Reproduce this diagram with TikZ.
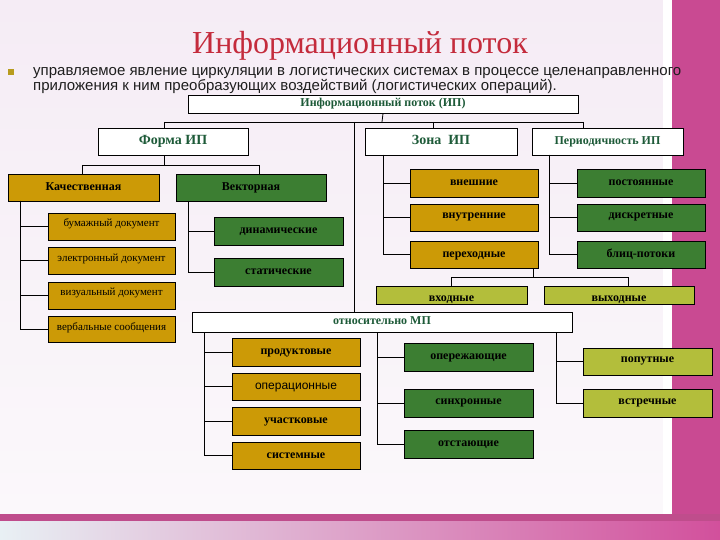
\documentclass[tikz,border=0pt]{standalone}
\usepackage{fontspec}
\setmainfont{Liberation Serif}
\setsansfont{Liberation Sans}
\definecolor{gold}{HTML}{CC9A06}
\definecolor{vgreen}{HTML}{3C7E32}
\definecolor{ygreen}{HTML}{B3BE3B}
\definecolor{hgreen}{HTML}{1D5A38}
\definecolor{tred}{HTML}{C42B3C}
\definecolor{mag}{HTML}{C94A92}
\definecolor{magdark}{HTML}{BF4D8C}
\definecolor{bgpink}{HTML}{F5ECF5}
\definecolor{bgpale}{HTML}{FBF8FB}
\definecolor{bullet}{HTML}{B89C1E}
\newcommand\mkbox[7]{\node[#1,minimum width={(#5)-(#3)},minimum height={(#6)-(#4)}] (#2) at ({((#3)+(#5))/2},{((#4)+(#6))/2}) {#7};}
\tikzset{
  base/.style={draw=black,line width=0.8pt,inner sep=0pt,text height=8pt,text depth=2.5pt},
  hdr/.style={base,fill=white,text=hgreen,font=\bfseries\fontsize{12}{13}\selectfont},
  goldbox/.style={base,fill=gold,font=\bfseries\fontsize{12}{13}\selectfont},
  docbox/.style={base,fill=gold,font=\fontsize{11}{12}\selectfont},
  grnbox/.style={base,fill=vgreen,font=\bfseries\fontsize{12}{13}\selectfont},
  ylwbox/.style={base,fill=ygreen,font=\bfseries\fontsize{12}{13}\selectfont},
  upa/.style={text depth=8.5pt},
  upb/.style={text depth=6pt},
  dna/.style={text height=15pt},
  conn/.style={draw=black,line width=0.8pt},
}
\begin{document}
\begin{tikzpicture}[x=1pt,y=-1pt]
\useasboundingbox (0,0) rectangle (720,540);
% background
\shade[top color=bgpink,bottom color=bgpale] (0,0) rectangle (672,515);
\fill[white] (663,0) rectangle (672,515);
\fill[mag] (672,0) rectangle (720,521);
\fill[magdark] (0,514) rectangle (720,521);
\shade[left color={rgb,255:red,232;green,240;blue,244},right color={rgb,255:red,210;green,80;blue,156}] (0,521) rectangle (720,540);
% title and text
\node[text=tred,font=\fontsize{32}{34}\selectfont,inner sep=0pt] (ttl) at (360,46) {Информационный поток};
\node[fill=bullet,minimum size=6pt,inner sep=0pt] (blt) at (11,72) {};
\node[anchor=base west,align=left,inner sep=0pt,text={rgb,255:red,30;green,30;blue,30},font=\sffamily\fontsize{15}{13.5}\selectfont] (desc) at (33,91)
  {управляемое явление циркуляции в логистических системах в процессе целенаправленного\\приложения к ним преобразующих воздействий (логистических операций).};
% header boxes
\mkbox{hdr}{top}{188}{95}{578}{113}{Информационный поток (ИП)}
\mkbox{hdr,font=\bfseries\fontsize{14}{15}\selectfont}{forma}{98}{128}{248}{155}{Форма ИП}
\mkbox{hdr,font=\bfseries\fontsize{14}{15}\selectfont}{zona}{365}{128}{517}{155}{Зона~~ИП}
\mkbox{hdr}{period}{532}{128}{683}{155}{Периодичность ИП}
\mkbox{hdr}{relmp}{192}{312}{572}{332}{относительно МП}
% form
\mkbox{goldbox}{kach}{8}{174}{159}{201}{Качественная}
\mkbox{grnbox}{vekt}{176}{174}{326}{201}{Векторная}
\mkbox{docbox,upa}{bum}{48}{213}{175}{240}{бумажный документ}
\mkbox{docbox,upb}{elec}{48}{247}{175}{274}{электронный документ}
\mkbox{docbox,upa}{vis}{48}{282}{175}{309}{визуальный документ}
\mkbox{docbox,upb}{verb}{48}{316}{175}{342}{вербальные сообщения}
\mkbox{grnbox}{din}{214}{217}{343}{245}{динамические}
\mkbox{grnbox}{stat}{214}{258}{343}{286}{статические}
% zone
\mkbox{goldbox}{vnesh}{410}{169}{538}{197}{внешние}
\mkbox{goldbox,upb}{vnutr}{410}{204}{538}{231}{внутренние}
\mkbox{goldbox}{perekh}{410}{241}{538}{268}{переходные}
\mkbox{ylwbox,dna}{vhod}{376}{287}{527}{304}{входные}
\mkbox{ylwbox,dna}{vyhod}{544}{287}{694}{304}{выходные}
% period
\mkbox{grnbox}{post}{577}{169}{705}{197}{постоянные}
\mkbox{grnbox,upb}{diskr}{577}{204}{705}{231}{дискретные}
\mkbox{grnbox}{blic}{577}{241}{705}{268}{блиц-потоки}
% relative MP
\mkbox{goldbox}{prod}{232}{338}{360}{366}{продуктовые}
\mkbox{goldbox,font=\sffamily\fontsize{12}{13}\selectfont}{oper}{232}{373}{360}{400}{операционные}
\mkbox{goldbox}{uch}{232}{407}{360}{435}{участковые}
\mkbox{goldbox}{sist}{232}{442}{360}{469}{системные}
\mkbox{grnbox}{operezh}{404}{343}{533}{371}{опережающие}
\mkbox{grnbox,upb}{sinhr}{404}{389}{533}{417}{синхронные}
\mkbox{grnbox}{otst}{404}{430}{533}{458}{отстающие}
\mkbox{ylwbox,upb}{poput}{583}{348}{712}{375}{попутные}
\mkbox{ylwbox,upb}{vstr}{583}{389}{712}{417}{встречные}
% connectors
\coordinate (busc) at (382,122);
\coordinate (bL) at (164,122);
\coordinate (bR) at (583,122);
\coordinate (bZ) at (433,122);
\coordinate (bM) at (354,122);
\draw[conn] (top.south) -- (busc);
\draw[conn] (bL) -- (bR);
\draw[conn] (bL) -- (bL |- forma.north);
\draw[conn] (bZ) -- (bZ |- zona.north);
\draw[conn] (bR) -- (bR |- period.north);
\draw[conn] (bM) -- (bM |- relmp.north);
% form children
\coordinate (fj) at (164,165);
\coordinate (fjl) at (82,165);
\coordinate (fjr) at (259,165);
\draw[conn] (fj |- forma.south) -- (fj);
\draw[conn] (fjl) -- (fjr);
\draw[conn] (fjl) -- (fjl |- kach.north);
\draw[conn] (fjr) -- (fjr |- vekt.north);
\coordinate (ks) at (20,201);
\foreach \n in {bum,elec,vis,verb} \draw[conn] (ks) |- (\n.west);
\coordinate (vs) at (188,201);
\foreach \n in {din,stat} \draw[conn] (vs) |- (\n.west);
% zone / period children
\coordinate (zs) at (383,155);
\foreach \n in {vnesh,vnutr,perekh} \draw[conn] (zs) |- (\n.west);
\coordinate (ps) at (549,155);
\foreach \n in {post,diskr,blic} \draw[conn] (ps) |- (\n.west);
\coordinate (pj) at (533,277);
\coordinate (vyj) at (628,277);
\draw[conn] (pj |- perekh.south) -- (pj);
\draw[conn] (vhod.north) |- (vyj);
\draw[conn] (vyj) -- (vyj |- vyhod.north);
% relative MP children
\coordinate (rl) at (204,332);
\foreach \n in {prod,oper,uch,sist} \draw[conn] (rl) |- (\n.west);
\coordinate (rm) at (377,332);
\foreach \n in {operezh,sinhr,otst} \draw[conn] (rm) |- (\n.west);
\coordinate (rr) at (556,332);
\foreach \n in {poput,vstr} \draw[conn] (rr) |- (\n.west);
\end{tikzpicture}
\end{document}
